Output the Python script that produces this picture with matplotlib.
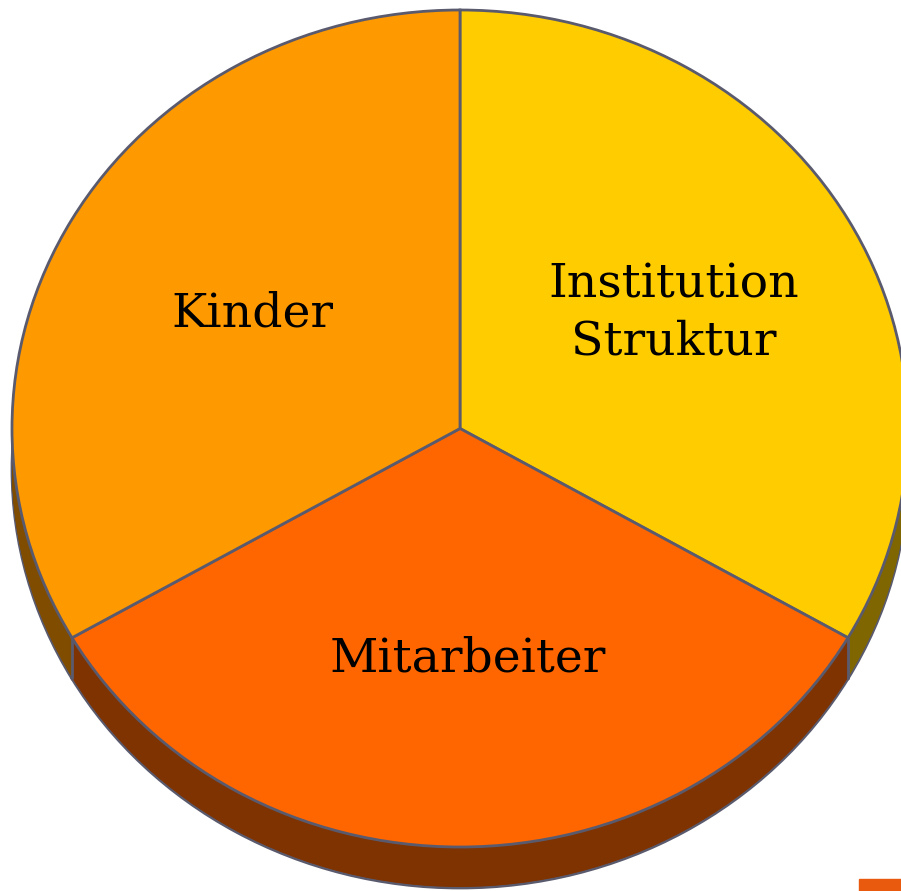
import numpy as np
import matplotlib
matplotlib.use('Agg')
import matplotlib.pyplot as plt
from matplotlib.patches import Rectangle

# slices in drawing order (clockwise from 12 o'clock)
LABELS = ["Institution\nStruktur", "Mitarbeiter", "Kinder"]
VALUES = [1, 1, 1]
TOP_COLORS = ["#FFCC00", "#FF6600", "#FF9900"]
SIDE_COLORS = ["#7F6600", "#7F3300", "#7F4C00"]

EDGE = "#5A5A6E"
W, H = 901, 891
CX, CY = 460, 428.5       # pie centre in pixels
RX, RY = 448, 418.5       # ellipse half axes in pixels
DEPTH = 41 / RY           # thickness of the disc in data units
LABEL_NUDGE_PX = [0, 8, 6]  # small horizontal shifts of the labels


def main():
    fig = plt.figure(figsize=(W / 100, H / 100), dpi=100)
    ax = fig.add_axes([0, 0, 1, 1])
    ax.set_axis_off()

    # extruded side: stack of shifted pies, the lowest one outlined
    n_layers = 41
    for i, off in enumerate(np.linspace(DEPTH, 0, n_layers)):
        outlined = i == 0
        ax.pie(VALUES, colors=SIDE_COLORS, startangle=90, counterclock=False,
               center=(0, -off), radius=1, frame=True,
               wedgeprops=dict(edgecolor=EDGE if outlined else "none",
                               linewidth=2 if outlined else 0))

    # vertical seams of the side at the slice borders
    bounds = 90 - 360 * np.cumsum(VALUES) / np.sum(VALUES)
    for a in bounds:
        if np.sin(np.radians(a)) < 0:
            x = np.cos(np.radians(a))
            y = np.sin(np.radians(a))
            ax.vlines(x, y - DEPTH, y, color=EDGE, lw=2, zorder=5)

    # top face
    _, texts = ax.pie(VALUES, labels=LABELS, colors=TOP_COLORS, startangle=90,
                      counterclock=False, center=(0, 0), radius=1,
                      labeldistance=0.55, frame=True,
                      wedgeprops=dict(edgecolor=EDGE, linewidth=2),
                      textprops=dict(ha="center", va="center", ma="center",
                                     fontsize=34, family="DejaVu Serif",
                                     color="black", linespacing=1.35,
                                     zorder=10))
    for t, dx in zip(texts, LABEL_NUDGE_PX):
        x, y = t.get_position()
        t.set_position((x + dx / RX, y))

    ax.set_aspect("auto")
    ax.set_xlim(-CX / RX, (W - CX) / RX)
    ax.set_ylim((CY - H) / RY, CY / RY)
    ax.set_axis_off()

    ax.add_patch(Rectangle((859 / W, 0), 42 / W, 12 / H,
                           transform=ax.transAxes, color="#E95A0E", zorder=20))

    fig.savefig("out.png", dpi=100)
    plt.close(fig)


if __name__ == "__main__":
    main()
